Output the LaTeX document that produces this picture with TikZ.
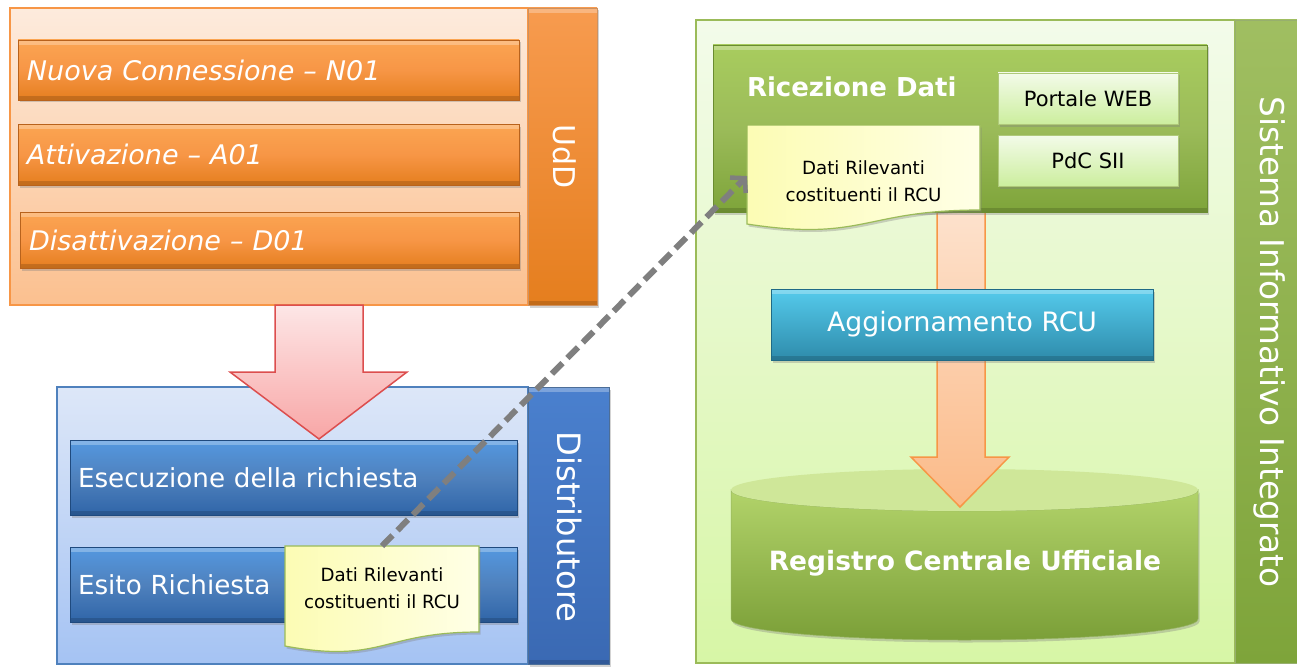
\documentclass[tikz,border=0pt]{standalone}
\usepackage{fontspec}
\setmainfont{DejaVu Sans}
\usetikzlibrary{arrows.meta,shadows}
\definecolor{orpanT}{HTML}{FDEBDD}
\definecolor{orpanB}{HTML}{FBC08F}
\definecolor{orline}{HTML}{F79646}
\definecolor{orbarT}{HTML}{FBA552}
\definecolor{orbarB}{HTML}{E57E1E}
\definecolor{orbarL}{HTML}{B8621C}
\definecolor{pinkT}{HTML}{FDE6E6}
\definecolor{pinkB}{HTML}{F8A6A6}
\definecolor{pinkL}{HTML}{DC4E4E}
\definecolor{blpanT}{HTML}{DDE7F8}
\definecolor{blpanB}{HTML}{A5C3F3}
\definecolor{blline}{HTML}{4F81BD}
\definecolor{blsideT}{HTML}{4A80CE}
\definecolor{blsideB}{HTML}{3A69B3}
\definecolor{blbarT}{HTML}{5498E0}
\definecolor{blbarB}{HTML}{2F65A8}
\definecolor{blbarL}{HTML}{1F4A7E}
\definecolor{noteT}{HTML}{FCFCB4}
\definecolor{noteB}{HTML}{FFFFE6}
\definecolor{noteL}{HTML}{9BBB59}
\definecolor{grpanT}{HTML}{F3FBEA}
\definecolor{grpanB}{HTML}{D7F6A6}
\definecolor{grline}{HTML}{9BBB59}
\definecolor{grbarT}{HTML}{A8CC5E}
\definecolor{grbarB}{HTML}{7EA43A}
\definecolor{grbarL}{HTML}{6A8C30}
\definecolor{ltgrT}{HTML}{F3FBE9}
\definecolor{ltgrB}{HTML}{CCEE9E}
\definecolor{cyT}{HTML}{55CBEC}
\definecolor{cyB}{HTML}{2E8BAB}
\definecolor{cyL}{HTML}{1F6A86}
\definecolor{peachT}{HTML}{FDE3CF}
\definecolor{peachB}{HTML}{FBBA88}
\definecolor{cylT}{HTML}{B2D36A}
\definecolor{cylB}{HTML}{7B9F38}
\definecolor{cylTop}{HTML}{CFE799}
\definecolor{dashgray}{HTML}{7F7F7F}
\tikzset{
  every node/.style={inner sep=0pt, outer sep=0pt},
  shad/.style={drop shadow={opacity=0.35, shadow xshift=1.5pt, shadow yshift=-2.5pt}},
  bevel/.style={path picture={
     \fill[white, opacity=0.28] (path picture bounding box.north west) rectangle
        ([yshift=-5pt]path picture bounding box.north east);
     \fill[black, opacity=0.15] (path picture bounding box.south west) rectangle
        ([yshift=4pt]path picture bounding box.south east);}},
  orpanel/.style={draw=orline, line width=1.2pt, top color=orpanT, bottom color=orpanB},
  orside/.style={draw=orbarL!70, line width=0.8pt, top color=orline!95, bottom color=orbarB, shad, bevel},
  orbar/.style={draw=orbarL, line width=0.8pt, top color=orbarT, bottom color=orbarB, middle color=orline, shad, bevel,
     text=white, align=left, inner xsep=9pt, font=\fontsize{27}{32}\selectfont\itshape},
  blpanel/.style={draw=blline, line width=1.2pt, top color=blpanT, bottom color=blpanB},
  blside/.style={draw=blbarL!80, line width=0.8pt, top color=blsideT, bottom color=blsideB, shad, bevel},
  blbar/.style={draw=blbarL, line width=0.8pt, top color=blbarT, bottom color=blbarB, middle color=blline, shad, bevel,
     text=white, align=left, inner xsep=8pt, font=\fontsize{26.2}{31}\selectfont},
  notebox/.style={draw=noteL, line width=1.2pt, left color=noteT, right color=noteB, shad},
  notetext/.style={align=center, text=black, font=\fontsize{18.2}{27}\selectfont},
  grpanel/.style={draw=grline, line width=1.5pt, top color=grpanT, bottom color=grpanB},
  grside/.style={draw=grbarL!70, line width=0.8pt, top color=grline!95, bottom color=grbarB},
  grbar/.style={draw=grbarL, line width=0.8pt, top color=grbarT, bottom color=grbarB, middle color=grline, shad, bevel},
  ltbox/.style={draw=grline!80, line width=0.8pt, top color=ltgrT, bottom color=ltgrB, shad,
     text=black, font=\fontsize{21}{25}\selectfont},
  cybar/.style={draw=cyL, line width=0.8pt, top color=cyT, bottom color=cyB, middle color=cyT!50!cyB, shad, bevel,
     text=white, font=\fontsize{26.7}{31}\selectfont},
  sidetext/.style={rotate=-90, text=white},
  blockarrow/.style={line width=1.5pt, line join=miter},
}
\begin{document}
\begin{tikzpicture}[x=1pt,y=-1pt]
\useasboundingbox (0,0) rectangle (1297,666);

% ---------------- UdD ----------------
\node[orpanel, minimum width=518pt, minimum height=297pt] (udd) at (269,156.5) {};
\node[orside, minimum width=69pt, minimum height=297pt] (uddbar) at (562.5,156.5) {};
\node[sidetext, font=\fontsize{30}{36}\selectfont] (uddlbl) at (565,157) {UdD};
\node[orbar, minimum width=501pt, minimum height=60pt, text width=483pt] (n01) at (268.5,70) {Nuova Connessione – N01};
\node[orbar, minimum width=501pt, minimum height=61pt, text width=483pt] (a01) at (268.5,154.5) {Attivazione – A01};
\node[orbar, minimum width=499pt, minimum height=56pt, text width=481pt] (d01) at (269.5,240) {Disattivazione – D01};

% ---------------- Distributore ----------------
\node[blpanel, minimum width=471pt, minimum height=277pt] (dist) at (292.5,525.5) {};
\node[blside, minimum width=81pt, minimum height=277pt] (distbar) at (568.5,525.5) {};
\node[sidetext, font=\fontsize{32.2}{38}\selectfont] (distlbl) at (569,527) {Distributore};

% pink block arrow
\path[blockarrow, draw=pinkL, top color=pinkT, bottom color=pinkB]
  (275,305) -- (363,305) -- (363,372) -- (407,372) -- (319,439) -- (230,372) -- (275,372) -- cycle;

\node[blbar, minimum width=447pt, minimum height=75pt, text width=431pt] (esec) at (293.5,477.5) {Esecuzione della richiesta};
\node[blbar, minimum width=447pt, minimum height=75pt, text width=431pt] (esito) at (293.5,584.5) {Esito Richiesta};

% note 1
\path[notebox] (285,546) -- (479,546) -- (479,632)
  .. controls (382,632) and (382,664) .. (285,646) -- cycle;
\node[minimum width=194pt, minimum height=86pt] (note1) at (382,589) {};
\node[notetext] (note1txt) at (382,588) {Dati Rilevanti\\costituenti il RCU};

% ---------------- SII ----------------
\node[grpanel, minimum width=539pt, minimum height=643pt] (sii) at (965.5,341.5) {};
\node[grside, minimum width=62pt, minimum height=643pt] (siibar) at (1266,341.5) {};
\node[sidetext, font=\fontsize{32.7}{38}\selectfont] (siilbl) at (1270,342) {Sistema Informativo Integrato};

% cylinder
\path[draw=cylB!80, line width=0.5pt, top color=cylT, bottom color=cylB, shad]
  (731,490) -- (731,619) arc[start angle=180, end angle=0, x radius=233.5, y radius=21]
  -- (1198,490) arc[start angle=0, end angle=180, x radius=233.5, y radius=21] -- cycle;
\fill[cylTop] (964.5,490) ellipse[x radius=233.5, y radius=21];
\node[text=white, font=\fontsize{26.5}{31}\selectfont\bfseries] (rcu) at (965,563) {Registro Centrale Ufficiale};

% orange (peach) block arrow
\path[blockarrow, draw=orline, top color=peachT, bottom color=peachB]
  (937,200) -- (985,200) -- (985,457) -- (1009,457) -- (960,507) -- (911,457) -- (937,457) -- cycle;

\node[grbar, minimum width=494pt, minimum height=167pt] (ric) at (960,128.5) {};
\node[anchor=base west, text=white, font=\fontsize{26}{31}\selectfont\bfseries] (riclbl) at (747,97) {Ricezione Dati};
\node[ltbox, minimum width=180pt, minimum height=51pt] (web) at (1088,98.5) {Portale WEB};
\node[ltbox, minimum width=180pt, minimum height=51pt] (pdc) at (1088,160.5) {PdC SII};

% note 2
\path[notebox] (747,125) -- (980,125) -- (980,210)
  .. controls (863.5,210) and (863.5,242) .. (747,224) -- cycle;
\node[minimum width=233pt, minimum height=102pt] (note2) at (863.5,176) {};
\node[notetext] (note2txt) at (863.5,181) {Dati Rilevanti\\costituenti il RCU};

\node[cybar, minimum width=382pt, minimum height=71pt] (agg) at (962,324.5) {Aggiornamento RCU};

% dashed connector
\draw[dashgray, line width=6pt, dash pattern=on 15pt off 7pt,
  -{Straight Barb[length=10pt, width=22pt, line width=4.5pt]}]
  (note1.north) -- (note2.west);
\end{tikzpicture}
\end{document}
